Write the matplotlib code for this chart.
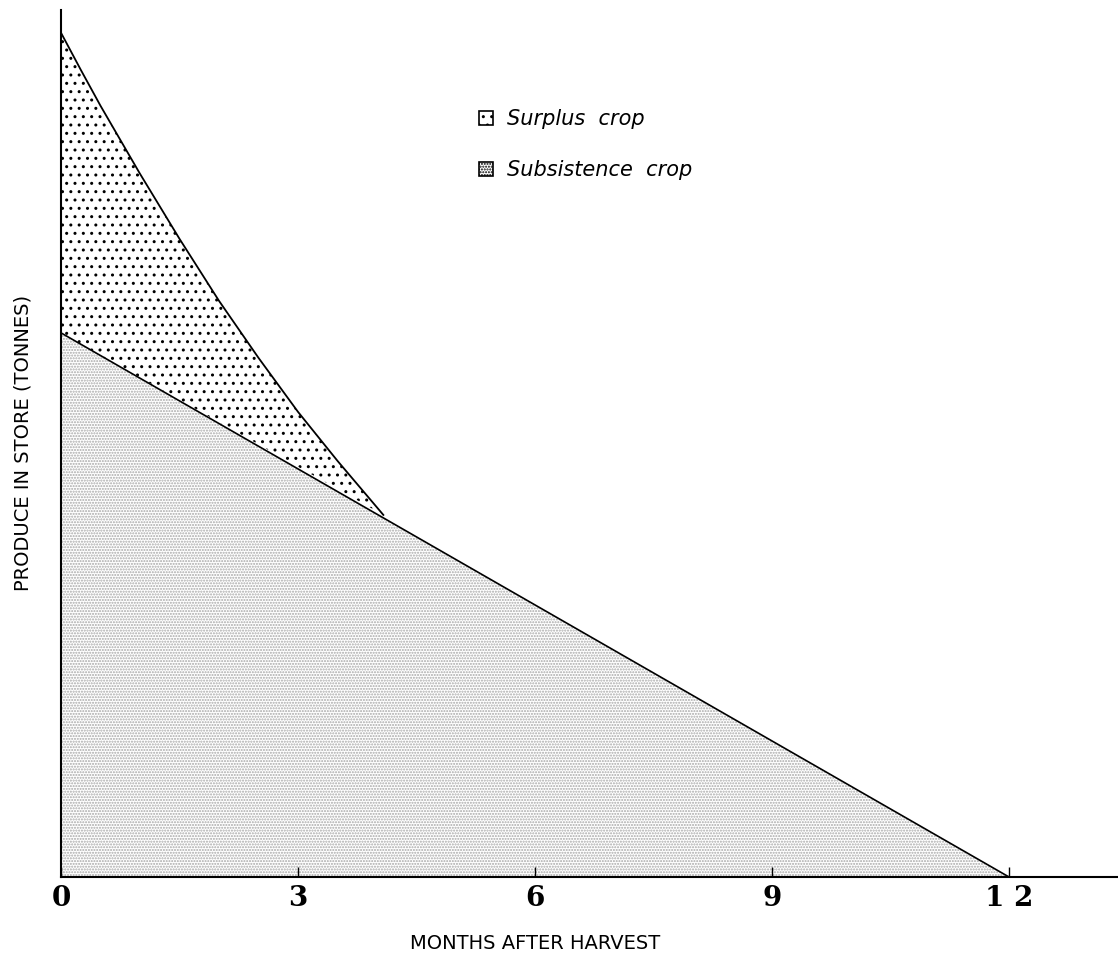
import matplotlib.pyplot as plt
from matplotlib.patches import Patch

# total produce in store (subsistence + surplus)
months_total = [0.0, 0.25, 0.5, 0.75, 1.0, 1.5, 2.0, 2.5, 3.0, 3.5, 4.08]
store_total = [8.44, 8.07, 7.71, 7.37, 7.03, 6.38, 5.76, 5.19, 4.65, 4.16, 3.62]

# subsistence crop store, a straight decline to zero at 12 months
months_subs = [0.0, 12.0]
store_subs = [5.44, 0.0]

tick_pos = [0, 3, 6, 9, 12]
tick_labels = ["0", "3", "6", "9", "1 2"]

plt.rcParams["hatch.linewidth"] = 1.0

fig = plt.figure(figsize=(11.18, 9.55), dpi=100)
ax = fig.add_axes([0.0546, 0.0817, 0.9454, 0.908])

# subsistence area: triangle under the straight line
ax.fill([months_subs[0]] + months_subs + [months_subs[0]],
        [0.0] + store_subs + [0.0],
        facecolor="white", edgecolor="#a8a8a8", hatch="......", linewidth=0)
# surplus area: between the curve and the subsistence line
ax.fill(months_total + [months_subs[0]], store_total + [store_subs[0]],
        facecolor="white", edgecolor="black", hatch="..", linewidth=0)

ax.plot(months_total, store_total, color="black", lw=1.3)
ax.plot(months_subs, store_subs, color="black", lw=1.2)

ax.set_xlim(0, 13.38)
ax.set_ylim(0, 8.67)
ax.spines["top"].set_visible(False)
ax.spines["right"].set_visible(False)
ax.spines["left"].set_linewidth(1.5)
ax.spines["bottom"].set_linewidth(1.5)

ax.set_xticks(tick_pos)
ax.set_xticklabels(tick_labels, fontfamily="DejaVu Serif", fontweight="bold", fontsize=20)
ax.tick_params(axis="x", direction="in", length=7, width=1, pad=6)
ax.set_yticks([])

ax.set_xlabel("MONTHS AFTER HARVEST", fontfamily="DejaVu Sans", fontsize=14)
ax.xaxis.set_label_coords(6 / 13.38, -0.066)
ax.set_ylabel("PRODUCE IN STORE (TONNES)", fontfamily="DejaVu Sans", fontsize=14)
ax.yaxis.set_label_coords(-0.027, 0.5)

handles = [Patch(facecolor="white", edgecolor="black", hatch="..", lw=1.2),
           Patch(facecolor="white", edgecolor="black", hatch="......", lw=1.2)]
ax.legend(handles, ["Surplus  crop", "Subsistence  crop"], loc="upper left",
          bbox_to_anchor=(0.378, 0.907), frameon=False, handlelength=0.65,
          handleheight=0.65, handletextpad=0.7, labelspacing=1.5,
          prop={"family": "DejaVu Sans", "style": "oblique", "size": 15})

fig.savefig("out.png", dpi=100)
